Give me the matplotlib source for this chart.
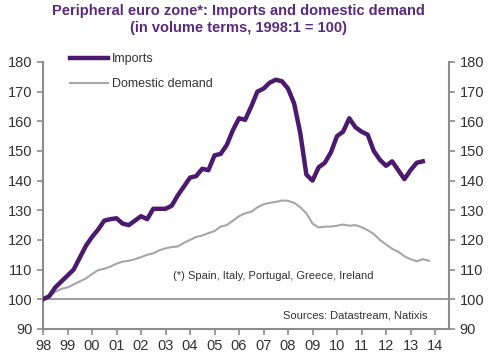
import numpy as np
import matplotlib.pyplot as plt

plt.rcParams['font.family'] = ['Liberation Sans', 'DejaVu Sans']

# quarterly, starting 1998Q1
imports = [100, 101, 104, 106, 108, 110, 114, 118,
           121, 123.5, 126.5, 127, 127.3, 125.5, 125, 126.5,
           128, 127, 130.5, 130.5, 130.5, 131.5, 135, 138,
           141, 141.5, 144, 143.5, 148.5, 149, 152, 157,
           161, 160.5, 165, 170, 171, 173, 174, 173.5,
           171, 166, 156, 142, 140, 144.5, 146, 149.5,
           155, 156.5, 161, 158, 156.5, 155.5, 150, 147,
           145, 146.5, 143.5, 140.5, 143.5, 146, 146.5]
domestic = [100, 101, 102.5, 103.5, 104, 105, 106, 107,
            108.5, 109.8, 110.3, 111, 112, 112.7, 113, 113.5,
            114.2, 115, 115.5, 116.5, 117.2, 117.6, 117.8, 119,
            120, 121, 121.5, 122.3, 123, 124.5, 125, 126.5,
            128, 129, 129.5, 131, 132, 132.5, 132.8, 133.3,
            133.2, 132.5, 131, 129, 125.5, 124.2, 124.5, 124.5,
            124.8, 125.2, 124.8, 125, 124.3, 123.3, 122, 120,
            118.5, 117, 116, 114.5, 113.5, 112.8, 113.5, 113]
year_labels = ['98', '99', '00', '01', '02', '03', '04', '05', '06',
               '07', '08', '09', '10', '11', '12', '13', '14']

t_imp = 1998 + np.arange(len(imports)) / 4
t_dom = 1998 + np.arange(len(domestic)) / 4

purple = '#4b1a6e'
grey = '#a6a6a6'
axis_col = '#8c8c8c'
txt = '#333333'

fig = plt.figure(figsize=(5, 3.56), dpi=100)
ax = fig.add_axes([0.086, 0.076, 0.812, 0.75])

ax.axhline(100, color=axis_col, lw=1.2, zorder=1)
ax.plot(t_imp, imports, color=purple, lw=3.2, label='Imports', zorder=3)
ax.plot(t_dom, domestic, color=grey, lw=1.5, label='Domestic demand', zorder=2)

ax.set_xlim(1998, 2014.57)
ax.set_ylim(90, 180)
ax.set_xticks(np.arange(1998, 2015))
ax.set_xticklabels(year_labels)
ax.set_yticks(np.arange(90, 181, 10))

ax.spines['top'].set_visible(False)
for s in ['left', 'right', 'bottom']:
    ax.spines[s].set_color(axis_col)
    ax.spines[s].set_linewidth(1.5)
ax.tick_params(axis='both', colors=axis_col, labelcolor=txt, labelsize=10.5,
               length=4, width=1.2, direction='out')
ax.tick_params(axis='y', right=True, labelright=True)

ax.legend(loc='upper left', bbox_to_anchor=(0.04, 1.075), frameon=False,
          fontsize=9, handlelength=3.0, labelspacing=1.05, handletextpad=0.3,
          labelcolor=txt)

ax.text(0.815, 0.199, '(*) Spain, Italy, Portugal, Greece, Ireland',
        transform=ax.transAxes, ha='right', va='center', fontsize=8, color=txt)
ax.text(0.946, 0.049, 'Sources: Datastream, Natixis',
        transform=ax.transAxes, ha='right', va='center', fontsize=8, color=txt)

fig.text(0.476, 0.968, 'Peripheral euro zone*: Imports and domestic demand',
         ha='center', va='center', fontsize=10.5, fontweight='bold', color='#5b2a7e')
fig.text(0.476, 0.921, '(in volume terms, 1998:1 = 100)',
         ha='center', va='center', fontsize=10.5, fontweight='bold', color='#5b2a7e')

fig.savefig('out.png', dpi=100)
